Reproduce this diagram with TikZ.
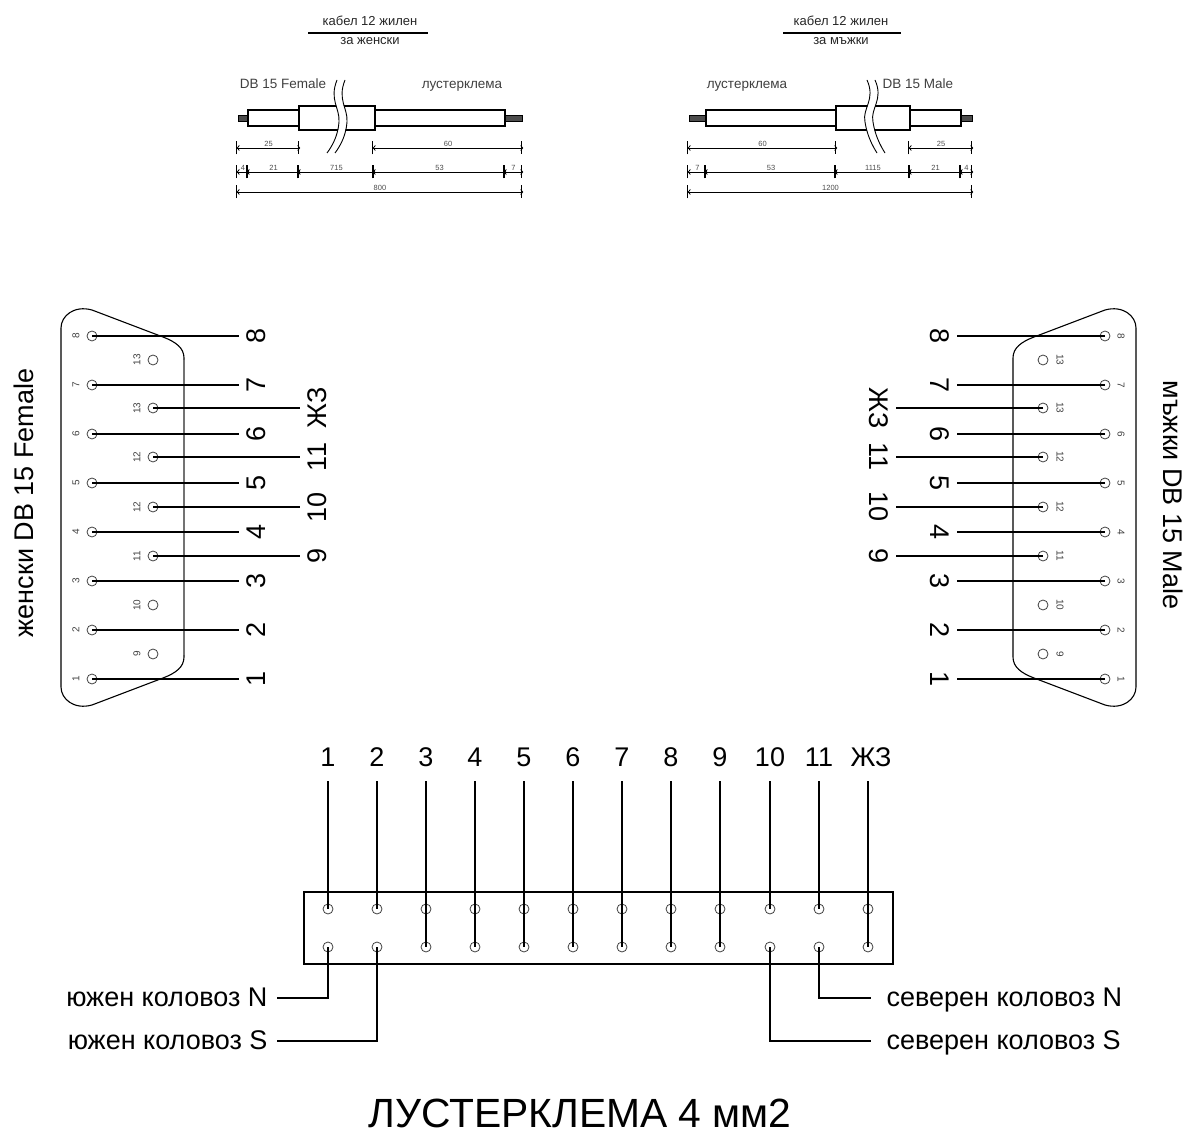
\documentclass[tikz,border=0pt]{standalone}
\usepackage{xcolor}
\usepackage{fontspec}
\setmainfont{Liberation Sans}
\usetikzlibrary{arrows.meta}

\begin{document}
\begin{tikzpicture}[x=1pt,y=-1pt,line width=1.1pt,
    pin/.style={circle,draw=black!75,line width=0.8pt,fill=none,inner sep=0pt,minimum size=10pt},
    tiny/.style={font=\fontsize{10}{10}\selectfont,text=black!75,inner sep=0pt},
    big/.style={font=\fontsize{27}{27}\selectfont,inner sep=7pt},
    side/.style={font=\fontsize{27}{27}\selectfont,inner sep=9pt,text height=20pt,text depth=4pt},
    head/.style={font=\fontsize{13}{13}\selectfont,text=black!85,inner sep=0pt,text height=9pt,text depth=3pt},
    note/.style={font=\fontsize{13.5}{13.5}\selectfont,text=black!75,inner sep=0pt,text height=10pt,text depth=3pt},
    size/.style={font=\fontsize{7.5}{7.5}\selectfont,text=black!70,inner sep=0pt,above=1.5pt},
    dimline/.style={line width=0.8pt,{Bar[width=13pt,sep=-2pt]Straight Barb[length=2pt,width=5pt]}-{Straight Barb[length=2pt,width=5pt,sep=-2pt]Bar[width=13pt]}},
    stub/.style={draw,fill=black!70,line width=0.6pt}]
    \useasboundingbox (0,0) rectangle (1184,1131);

    % cable for the female plug
    \node[head] (headfa) at (370,23) {кабел 12 жилен};
    \node[head] (headfb) at (370,42) {за женски};
    \draw (308,33) -- (428,33);
    \node[note] (notefa) at (283,85) {DB 15 Female};
    \node[note] (notefb) at (462,85) {лустерклема};
    \draw[stub] (238,115) rectangle (248,121);
    \draw[stub] (505,115) rectangle (522,121);
    \draw (248,110) rectangle (299,126);
    \draw (299,106) rectangle (375,130);
    \draw (375,110) rectangle (505,126);
    \draw[white,line width=7pt] (341,80) .. controls (333,100) and (344,108) .. (343,122) .. controls (342,135) and (337,145) .. (331,153);
    \foreach \dx in {0,8}
        \draw[line width=0.9pt,xshift=\dx pt] (337,80) .. controls (329,100) and (340,108) .. (339,122) .. controls (338,135) and (333,145) .. (327,153);
    \draw[dimline] (238,148) -- node[size] (fa) {25} (299,148);
    \draw[dimline] (374,148) -- node[size] (fb) {60} (522,148);
    \draw[dimline] (238,172) -- node[size] (fc) {4} (248,172);
    \draw[dimline] (248,172) -- node[size] (fd) {21} (299,172);
    \draw[dimline] (299,172) -- node[size] (fe) {715} (374,172);
    \draw[dimline] (374,172) -- node[size] (ff) {53} (505,172);
    \draw[dimline] (505,172) -- node[size] (fg) {7} (522,172);
    \draw[dimline] (238,192) -- node[size] (fh) {800} (522,192);

    % cable for the male plug
    \node[head] (headma) at (841,23) {кабел 12 жилен};
    \node[head] (headmb) at (841,42) {за мъжки};
    \draw (783,33) -- (901,33);
    \node[note] (notema) at (747,85) {лустерклема};
    \node[note] (notemb) at (918,85) {DB 15 Male};
    \draw[stub] (689,115) rectangle (706,121);
    \draw[stub] (961,115) rectangle (972,121);
    \draw (706,110) rectangle (836,126);
    \draw (836,106) rectangle (910,130);
    \draw (910,110) rectangle (961,126);
    \draw[white,line width=7pt] (871,80) .. controls (880,100) and (866,108) .. (869,122) .. controls (871,135) and (876,145) .. (881,153);
    \foreach \dx in {0,8}
        \draw[line width=0.9pt,xshift=\dx pt] (867,80) .. controls (876,100) and (862,108) .. (865,122) .. controls (867,135) and (872,145) .. (877,153);
    \draw[dimline] (689,148) -- node[size] (ma) {60} (836,148);
    \draw[dimline] (910,148) -- node[size] (mb) {25} (972,148);
    \draw[dimline] (689,172) -- node[size] (mc) {7} (706,172);
    \draw[dimline] (706,172) -- node[size] (md) {53} (836,172);
    \draw[dimline] (836,172) -- node[size] (me) {1115} (910,172);
    \draw[dimline] (910,172) -- node[size] (mf) {21} (961,172);
    \draw[dimline] (961,172) -- node[size] (mg) {4} (972,172);
    \draw[dimline] (689,192) -- node[size] (mh) {1200} (972,192);

    % plug shells
    \draw (61,328) .. controls (61,316) and (74,305) .. (92,310) -- (163,337) .. controls (176,342) and (184,348) .. (184,358)
        -- (184,657) .. controls (184,667) and (176,673) .. (163,678) -- (92,705) .. controls (74,710) and (61,699) .. (61,687) -- cycle;
    \draw[white,line width=1.4pt] (184,360) -- (184,655);
    \draw[black!55,line width=1.4pt] (184,360) -- (184,655);
    \draw (1136,328) .. controls (1136,316) and (1123,305) .. (1105,310) -- (1034,337) .. controls (1021,342) and (1013,348) .. (1013,358)
        -- (1013,657) .. controls (1013,667) and (1021,673) .. (1034,678) -- (1105,705) .. controls (1123,710) and (1136,699) .. (1136,687) -- cycle;
    \node[rotate=90,inner sep=0pt,font=\fontsize{27}{27}\selectfont] (titlef) at (24,503) {женски DB 15 Female};
    \node[rotate=-90,inner sep=0pt,font=\fontsize{27}{27}\selectfont] (titlem) at (1173,495) {мъжки DB 15 Male};

    % outer row of both plugs
    \foreach \n/\y in {8/336,7/385,6/434,5/483,4/532,3/581,2/630,1/679} {
        \node[pin] (pf\n) at (92,\y) {};
        \node[tiny,rotate=90] (tf\n) at (76,\y) {\n};
        \node[big,rotate=90,anchor=north] (lf\n) at (239,\y) {\n};
        \draw (pf\n.center) -- (lf\n.north);
        \node[pin] (pm\n) at (1105,\y) {};
        \node[tiny,rotate=-90] (tm\n) at (1121,\y) {\n};
        \node[big,rotate=-90,anchor=north] (lm\n) at (957,\y) {\n};
        \draw (pm\n.center) -- (lm\n.north);
    }

    % inner row, the wired pins
    \foreach \n/\y/\t/\l in {a/408/13/ЖЗ,b/457/12/11,c/507/12/10,d/556/11/9} {
        \node[pin] (qf\n) at (153,\y) {};
        \node[tiny,rotate=90] (uf\n) at (137,\y) {\t};
        \node[big,rotate=90,anchor=north] (kf\n) at (300,\y) {\l};
        \draw (qf\n.center) -- (kf\n.north);
        \node[pin] (qm\n) at (1043,\y) {};
        \node[tiny,rotate=-90] (um\n) at (1060,\y) {\t};
        \node[big,rotate=-90,anchor=north] (km\n) at (896,\y) {\l};
        \draw (qm\n.center) -- (km\n.north);
    }

    % inner row, the free pins
    \foreach \n/\y/\t in {e/360/13,f/605/10,g/654/9} {
        \node[pin] (qf\n) at (153,\y) {};
        \node[tiny,rotate=90] (uf\n) at (137,\y) {\t};
        \node[pin] (qm\n) at (1043,\y) {};
        \node[tiny,rotate=-90] (um\n) at (1060,\y) {\t};
    }

    % terminal block
    \node[draw,minimum width=589pt,minimum height=72pt,inner sep=0pt] (block) at (598.5,928) {};
    \foreach \n/\x/\l/\dx in {1/328/1/0,2/377/2/0,3/426/3/0,4/475/4/0,5/524/5/0,6/573/6/0,7/622/7/0,8/671/8/0,9/720/9/0,10/770/10/0,11/819/11/0,12/868/ЖЗ/3} {
        \node[pin] (ta\n) at (\x,909) {};
        \node[pin] (tb\n) at (\x,947) {};
        \node[big,anchor=south,inner sep=0pt,xshift=\dx pt] (tl\n) at (\x,767) {\l};
        \coordinate (te\n) at (\x,781);
    }
    \foreach \n in {1,2,10,11}
        \draw (te\n) -- (ta\n.center);
    \foreach \n in {3,4,5,6,7,8,9,12}
        \draw (te\n) -- (tb\n.center);

    % track feeds
    \node[side,anchor=east] (southn) at (277,998) {южен коловоз N};
    \node[side,anchor=east] (souths) at (277,1041) {южен коловоз S};
    \node[side,anchor=west,inner xsep=15pt] (northn) at (871,998) {северен коловоз N};
    \node[side,anchor=west,inner xsep=15pt] (norths) at (871,1041) {северен коловоз S};
    \draw (tb1.center) |- (southn.east);
    \draw (tb2.center) |- (souths.east);
    \draw (tb11.center) |- (northn.west);
    \draw (tb10.center) |- (norths.west);

    \node[inner sep=0pt,anchor=base,font=\fontsize{40.8}{40.8}\selectfont] (title) at (580,1127) {ЛУСТЕРКЛЕМА 4 мм2};
\end{tikzpicture}
\end{document}
